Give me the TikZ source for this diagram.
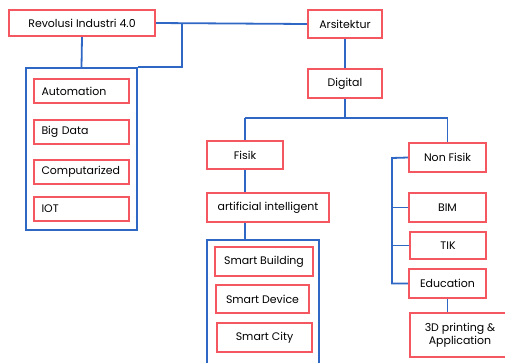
\documentclass[tikz,border=0pt]{standalone}
\usepackage{fontspec}
\setmainfont{Poppins}
\usepackage{xcolor}
\usepackage{tikz}
\usetikzlibrary{positioning}

\definecolor{boxred}{HTML}{F4575F}
\definecolor{linkblue}{HTML}{2F67C4}

\tikzset{
    topic/.style={
        draw=boxred,
        line width=2.4bp,
        fill=white,
        inner sep=0pt,
        align=center,
        font=\fontsize{11}{13}\selectfont
    },
    leftitem/.style={
        topic,
        text width=#1,
        align=left
    },
    group/.style={
        draw=linkblue,
        line width=1.6bp,
        inner sep=0pt
    },
    link/.style={
        draw=linkblue,
        line width=1.8bp
    }
}

\begin{document}
\begin{tikzpicture}[x=1bp,y=-1bp]
                \useasboundingbox (0,0) rectangle (505,362);

                \node[group, minimum width=111bp, minimum height=162bp] (grpA) at (81.5,149) {};
                \node[group, minimum width=112bp, minimum height=124bp] (grpB) at (263,302) {};

                \node[topic, minimum width=146bp, minimum height=26bp] (rev) at (82,23) {Revolusi Industri 4.0};
                \node[topic, minimum width=74bp, minimum height=28bp] (arsi) at (345,24) {Arsitektur};
                \node[topic, minimum width=74bp, minimum height=29bp] (digi) at (345,83.5) {Digital};

                \node[leftitem=80bp, minimum width=95bp, minimum height=24bp] (auto) at (81.5,91) {Automation};
                \node[leftitem=80bp, minimum width=95bp, minimum height=24bp] (bigd) at (81.5,132) {Big Data};
                \node[leftitem=80bp, minimum width=95bp, minimum height=24bp] (comp) at (81.5,172) {Computarized};
                \node[leftitem=80bp, minimum width=95bp, minimum height=24bp] (iot) at (81.5,209) {IOT};

                \node[topic, minimum width=76bp, minimum height=28bp] (fisik) at (245,155) {Fisik};
                \node[topic, minimum width=122bp, minimum height=29bp] (ai) at (268,207.5) {artificial intelligent};
                \node[topic, minimum width=98bp, minimum height=29bp] (sbld) at (264,261.5) {Smart Building};
                \node[topic, minimum width=93bp, minimum height=28bp] (sdev) at (262.5,299) {Smart Device};
                \node[topic, minimum width=95bp, minimum height=29bp] (scity) at (264.5,337.5) {Smart City};

                \node[topic, minimum width=77bp, minimum height=29bp] (nonf) at (447.5,157.5) {Non Fisik};
                \node[topic, minimum width=77bp, minimum height=29bp] (bim) at (447.5,207.5) {BIM};
                \node[topic, minimum width=76bp, minimum height=27bp] (tik) at (448,245.5) {TIK};
                \node[topic, minimum width=77bp, minimum height=29bp] (edu) at (447.5,283.5) {Education};
                \node[topic, minimum width=100bp, minimum height=44bp] (print) at (460,335) {3D printing \&\\Application};

                \coordinate (forkA) at (182,23);
                \coordinate (split) at (345,118);
                \coordinate (brk) at (392,158);

                \draw[link] (rev.east) -- (arsi.west);
                \draw[link] (rev.south) -- (grpA.north);
                \draw[link] (forkA) |- (grpA.north east);
                \draw[link] (arsi.south) -- (digi.north);
                \draw[link] (digi.south) -- (split);
                \draw[link] (fisik.north |- split) -- (nonf.north |- split);
                \draw[link] (fisik.north) -- (fisik.north |- split);
                \draw[link] (nonf.north) -- (nonf.north |- split);
                \draw[link] (fisik.south) -- (fisik.south |- ai.north);
                \draw[link] (fisik.south |- ai.south) -- (fisik.south |- grpB.north);
                \draw[link] (nonf.west) -- (brk) |- (edu.west);
                \foreach \n in {bim,tik}
                    \draw[link] (\n.west) -- (\n.west -| brk);
                \draw[link] (edu.south) -- (edu.south |- print.north);
            \end{tikzpicture}
\end{document}
